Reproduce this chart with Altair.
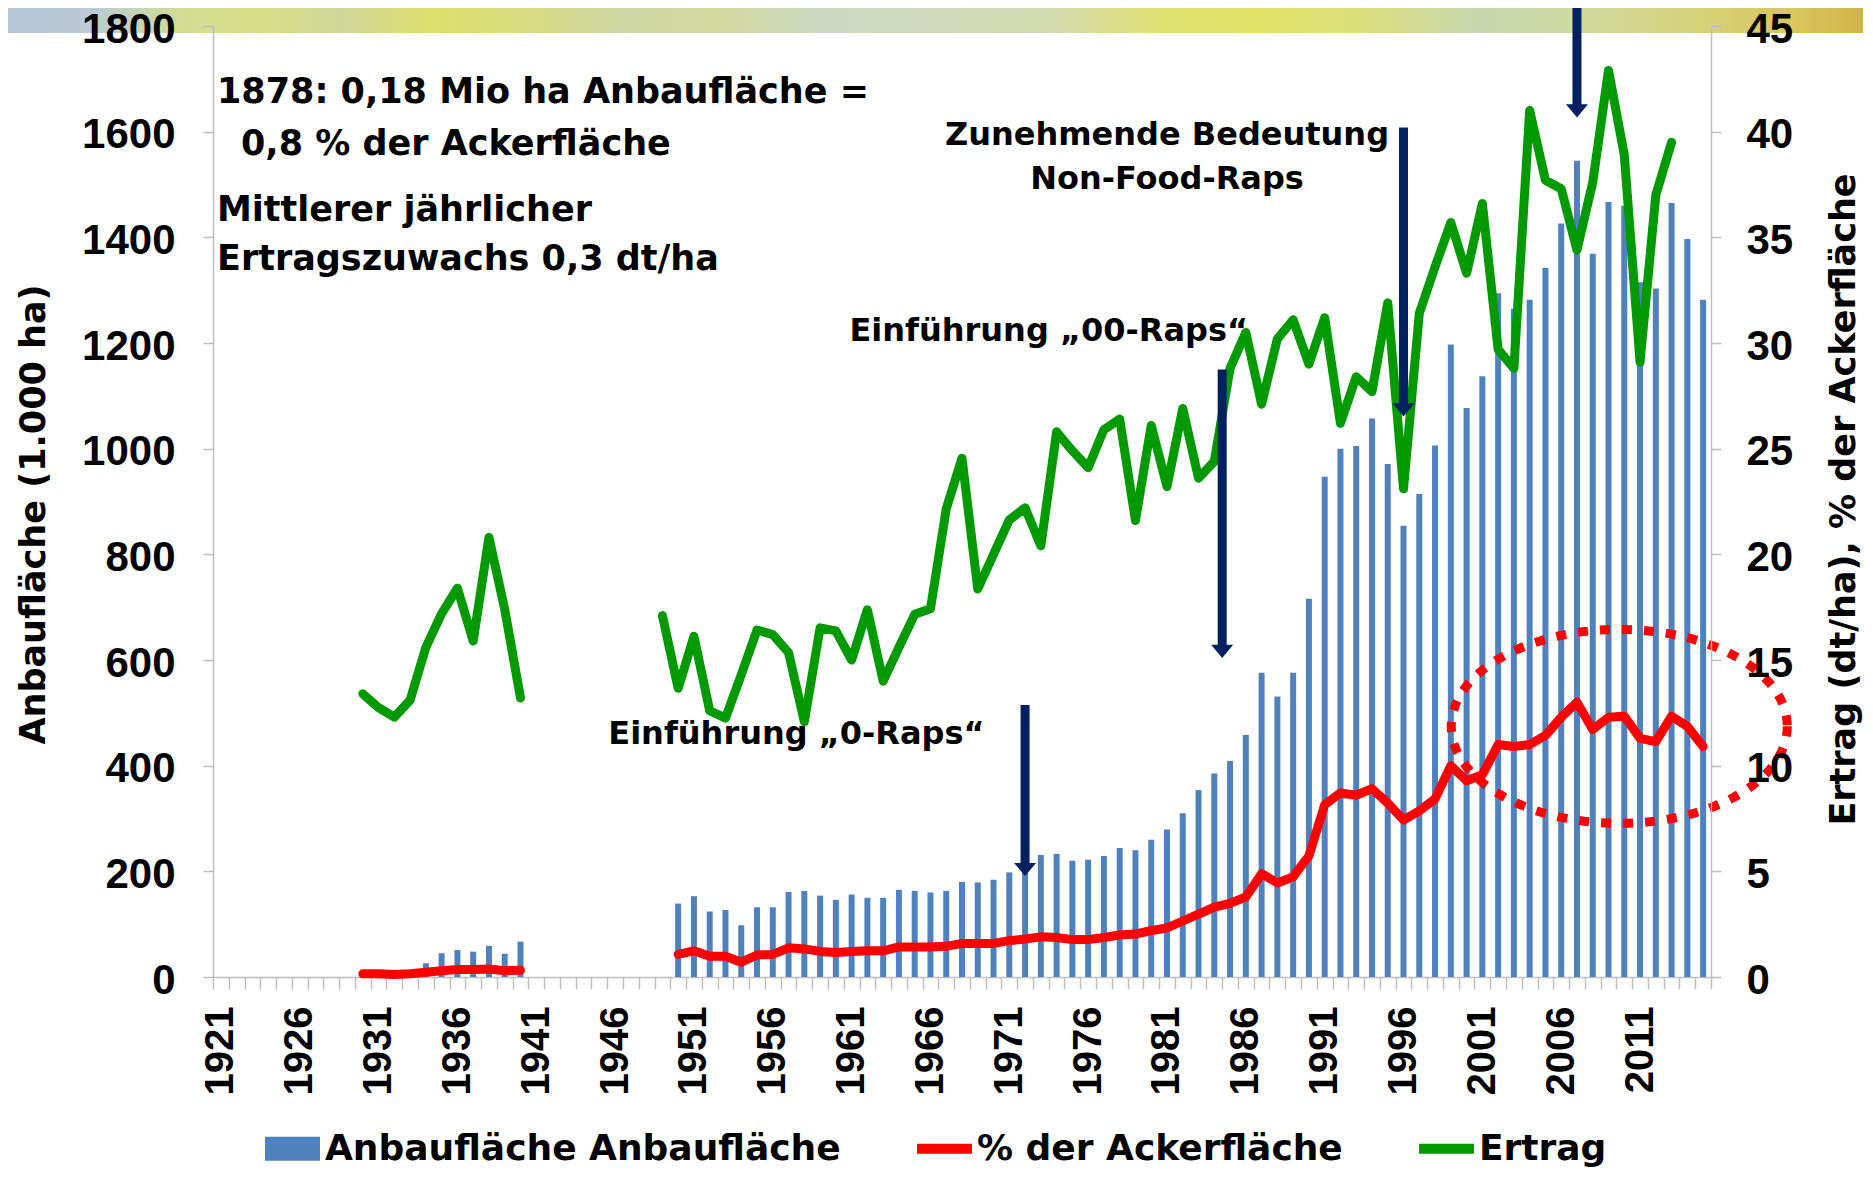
import altair as alt
import pandas as pd

# ------------------------------------------------------------------ data
years = [str(y) for y in range(1921, 2016)]

# Anbaufläche (1.000 ha)
area = ([None] * 9
        + [5, 5, 4, 5, 26, 45, 51, 48, 59, 44, 67]
        + [None] * 9
        + [139, 153, 124, 127, 98, 132, 132, 161, 163, 154,
           146, 156, 150, 150, 165, 163, 160, 163, 180, 179,
           184, 198, 200, 231, 233, 220, 222, 229, 244, 240,
           260, 279, 310, 354, 385, 409, 458, 576, 531, 576,
           716, 947, 1000, 1005, 1057, 971, 854, 914, 1006, 1197,
           1077, 1137, 1294, 1265, 1282, 1342, 1426, 1545, 1369, 1467,
           1460, 1315, 1303, 1465, 1397, 1282])

# % der Ackerfläche
pct = ([None] * 9
       + [0.15, 0.15, 0.12, 0.15, 0.22, 0.30, 0.35, 0.35, 0.38, 0.30, 0.32]
       + [None] * 9
       + [1.07, 1.24, 0.98, 0.98, 0.70, 1.04, 1.07, 1.38, 1.33, 1.21,
          1.16, 1.21, 1.24, 1.24, 1.42, 1.42, 1.42, 1.45, 1.59, 1.59,
          1.59, 1.72, 1.80, 1.90, 1.87, 1.77, 1.77, 1.87, 1.99, 2.03,
          2.20, 2.32, 2.65, 2.98, 3.31, 3.48, 3.79, 4.89, 4.45, 4.74,
          5.73, 8.15, 8.71, 8.60, 8.91, 8.23, 7.43, 7.86, 8.43, 10.0,
          9.29, 9.57, 11.0, 10.91, 11.0, 11.43, 12.29, 13.0, 11.71, 12.29,
          12.34, 11.29, 11.14, 12.34, 11.86, 10.91])

# Ertrag (dt/ha)
ertrag = ([None] * 9
          + [13.4, 12.75, 12.3, 13.1, 15.6, 17.2, 18.4, 15.9, 20.8, 17.4, 13.2]
          + [None] * 8
          + [17.1]
          + [13.66, 16.12, 12.6, 12.25, 14.3, 16.42, 16.2, 15.35, 12.08, 16.52,
             16.38, 15.0, 17.38, 14.0, 15.6, 17.16, 17.42, 22.15, 24.55, 18.36,
             20.0, 21.63, 22.2, 20.4, 25.8, 24.9, 24.1, 25.9, 26.4, 21.6,
             26.1, 23.2, 26.9, 23.6, 24.4, 28.8, 30.5, 27.1, 30.2, 31.1,
             29.0, 31.2, 26.2, 28.4, 27.7, 31.9, 23.1, 31.4, 33.6, 35.7,
             33.3, 36.6, 29.7, 28.8, 41.0, 37.7, 37.3, 34.4, 37.6, 42.9,
             38.9, 29.1, 37.0, 39.5, None, None])

legend_labels = ["Anbaufläche Anbaufläche", "% der Ackerfläche", "Ertrag"]

# arrows (values on the left axis, 1.000 ha)
arrow_years = ["1972", "1996", "2007"]
arrow_top = [515, 1608, 1870]
arrow_tip = [191, 1061, 1627]
arrow2_years = ["1985"]          # drawn at the boundary 1984/1985
arrow2_top = [1150]
arrow2_tip = [604]

# annotation texts
tl_texts = ["1878: 0,18 Mio ha Anbaufläche =", "Mittlerer jährlicher", "Ertragszuwachs 0,3 dt/ha"]
tl_years = ["1921", "1921", "1921"]
tl_vals = [1675, 1452, 1359]

ind_texts = ["0,8 % der Ackerfläche"]
ind_years = ["1921"]
ind_vals = [1577]

mid_texts = ["Zunehmende Bedeutung", "Non-Food-Raps"]
mid_years = ["1981", "1981"]
mid_vals = [1594, 1510]

end_texts = ["Einführung \u201e00-Raps\u201c", "Einführung \u201e0-Raps\u201c"]
end_years = ["1973", "1957"]
end_vals = [1223, 460]

ellipse_year = ["2010"]
ellipse_val = [11.86]

# ------------------------------------------------------------------ styles
BLUE = "#4F81BD"
RED = "#FF0000"
GREEN = "#009900"
NAVY = "#002060"
GRAY = "#BFBFBF"
TXT_FONT = "DejaVu Sans"
NUM_FONT = "Liberation Sans"

df = pd.DataFrame({"year": years, "area": area, "pct": pct, "ertrag": ertrag})
df["seg"] = ["a" if int(y) < 1945 else "b" for y in years]
df["series"] = legend_labels[0]

x_scale = alt.Scale(domain=years, paddingInner=0, paddingOuter=0)
x_axis = alt.Axis(
    title=None, labelAngle=270, labelAlign="right", labelBaseline="middle",
    labelExpr="(toNumber(datum.value) - 1921) % 5 == 0 ? datum.value : ''",
    labelFont=NUM_FONT, labelFontWeight="bold", labelFontSize=40, labelColor="black",
    labelPadding=17, labelOverlap=False, tickBand="extent", tickSize=12,
    tickColor=GRAY, tickWidth=1.5, domainColor=GRAY, domainWidth=1.5, grid=False,
)


def X(bp=None):
    if bp is None:
        return alt.X("year:N", scale=x_scale, axis=x_axis, title=None)
    return alt.X("year:N", scale=x_scale, axis=x_axis, title=None, bandPosition=bp)


ys_left = alt.Scale(domain=[0, 1800], nice=False, zero=True)
ys_right = alt.Scale(domain=[0, 45], nice=False, zero=True)
ys_ov = alt.Scale(domain=[0, 1800], nice=False, zero=True)

left_axis = alt.Axis(
    orient="left", values=list(range(0, 1801, 200)), grid=False, format="d",
    title="Anbaufläche (1.000 ha)",
    labelFont=NUM_FONT, labelFontWeight="bold", labelFontSize=42, labelColor="black",
    labelPadding=28, labelFlush=False, labelOverlap=False, labelOffset=3,
    tickSize=10, tickColor=GRAY, tickWidth=1.5, domainColor=GRAY, domainWidth=1.5,
    titleFont=TXT_FONT, titleFontWeight="bold", titleFontSize=35, titleColor="black",
    titleAngle=270, titleX=-180, titleY=488, titleAlign="center", titleBaseline="middle",
    zindex=1,
)
right_axis = alt.Axis(
    orient="right", values=list(range(0, 46, 5)), grid=False, format="d",
    title="Ertrag (dt/ha), % der Ackerfläche",
    labelFont=NUM_FONT, labelFontWeight="bold", labelFontSize=42, labelColor="black",
    labelPadding=25, labelFlush=False, labelOverlap=False, labelOffset=3,
    tickSize=10, tickColor=GRAY, tickWidth=1.5, domainColor=GRAY, domainWidth=1.5,
    titleFont=TXT_FONT, titleFontWeight="bold", titleFontSize=35, titleColor="black",
    titleAngle=270, titleX=132, titleY=473, titleAlign="center", titleBaseline="middle",
    zindex=1,
)

legend_def = alt.Legend(
    title=None, orient="none", legendX=52, legendY=1095, direction="horizontal",
    labelFont=TXT_FONT, labelFontWeight="bold", labelFontSize=36, labelColor="black",
    labelOffset=5, labelLimit=1000, columnPadding=76, padding=0,
    symbolSize=3025, symbolStrokeWidth=0,
    symbolType=alt.ExprRef(
        expr="datum.value === 'Anbaufläche Anbaufläche' ? 'M-1,-0.44H1V0.44H-1Z' : 'M-1,-0.18H1V0.18H-1Z'"
    ),
)

# ------------------------------------------------------------------ banner (slide decoration)
banner_stops = [(8, "#b6c5d9"), (100, "#bccbd2"), (180, "#d2dc95"), (260, "#d9df88"),
                (340, "#cfd69a"), (430, "#dde06c"), (520, "#d8dc80"), (620, "#cdd6a4"),
                (720, "#d4d9a0"), (820, "#cdd9c4"), (930, "#d2dbbf"), (1050, "#d3dbb0"),
                (1160, "#dfe172"), (1260, "#e3e36a"), (1360, "#dbe07e"), (1480, "#c7d6b0"),
                (1580, "#cfd9a0"), (1700, "#d6d27a"), (1800, "#d7c45c"), (1865, "#d0b44a")]
grad = alt.LinearGradient(
    gradient="linear", x1=0, x2=1, y1=0, y2=0,
    stops=[alt.GradientStop(offset=(px - 8) / 1857, color=c) for px, c in banner_stops],
)
banner = alt.Chart(pd.DataFrame({"k": [0]})).mark_rect(fill=grad).encode(
    x=alt.value(-205), x2=alt.value(1652), y=alt.value(-18), y2=alt.value(7)
)

# ------------------------------------------------------------------ layers
bars = alt.Chart(df).transform_filter("isValid(datum.area)").mark_bar(
    width=alt.RelativeBandSize(0.38)
).encode(
    x=X(),
    y=alt.Y("area:Q", scale=ys_left, axis=left_axis),
    color=alt.Color("series:N", scale=alt.Scale(domain=legend_labels, range=[BLUE, RED, GREEN]),
                    legend=legend_def),
)

red_line = alt.Chart(df).transform_filter("isValid(datum.pct)").mark_line(
    color=RED, strokeWidth=9, strokeJoin="round", strokeCap="round"
).encode(x=X(), y=alt.Y("pct:Q", scale=ys_right, axis=right_axis), detail="seg:N")

green_line = alt.Chart(df).transform_filter("isValid(datum.ertrag)").mark_line(
    color=GREEN, strokeWidth=9, strokeJoin="round", strokeCap="round"
).encode(x=X(), y=alt.Y("ertrag:Q", scale=ys_right, axis=right_axis), detail="seg:N")

k = 0.5523
ry = 0.577
ELLIPSE = (f"M1,0 C1,{k*ry:.4f} {k:.4f},{ry} 0,{ry} C-{k:.4f},{ry} -1,{k*ry:.4f} -1,0 "
           f"C-1,-{k*ry:.4f} -{k:.4f},-{ry} 0,-{ry} C{k:.4f},-{ry} 1,-{k*ry:.4f} 1,0 Z")
ell_df = pd.DataFrame({"year": ellipse_year, "v": ellipse_val})
ellipse = alt.Chart(ell_df).mark_point(
    shape=ELLIPSE, size=336 * 336, filled=False, color=RED, opacity=1,
    strokeWidth=9, strokeDash=[10, 12], xOffset=-5
).encode(x=X(), y=alt.Y("v:Q", scale=ys_right, axis=right_axis))

HEAD = "M-1,-1.2L1,-1.2L0,0Z"


def arrows(yrs, tops, tips, bp):
    d = pd.DataFrame({"year": yrs, "top": tops, "tip": tips})
    rule = alt.Chart(d).mark_rule(color=NAVY, strokeWidth=9, y2Offset=-11).encode(
        x=X(bp), y=alt.Y("top:Q", scale=ys_ov, axis=None), y2="tip:Q")
    head = alt.Chart(d).mark_point(shape=HEAD, size=484, filled=True, color=NAVY,
                                   opacity=1, strokeWidth=0).encode(
        x=X(bp), y=alt.Y("tip:Q", scale=ys_ov, axis=None))
    return [rule, head]


def texts(txts, yrs, vals, bp, size, align, dx):
    d = pd.DataFrame({"year": yrs, "v": vals, "t": txts})
    return alt.Chart(d).mark_text(
        font=TXT_FONT, fontWeight="bold", fontSize=size, align=align,
        baseline="middle", color="black", dx=dx
    ).encode(x=X(bp), y=alt.Y("v:Q", scale=ys_ov, axis=None), text="t:N")


left_group = alt.layer(banner, bars)
right_group = alt.layer(red_line, green_line, ellipse)
overlay = alt.layer(
    *arrows(arrow_years, arrow_top, arrow_tip, None),
    *arrows(arrow2_years, arrow2_top, arrow2_tip, 0),
    texts(tl_texts, tl_years, tl_vals, 0, 35, "left", 4),
    texts(ind_texts, ind_years, ind_vals, 0, 35, "left", 28),
    texts(mid_texts, mid_years, mid_vals, None, 32, "center", 0),
    texts(end_texts, end_years, end_vals, 1, 32, "center", 0),
)

chart = alt.layer(left_group, right_group, overlay).resolve_scale(
    y="independent"
).properties(
    width=1498, height=951,
    autosize=alt.AutoSizeParams(type="none"),
    padding={"left": 205, "top": 18, "right": 152, "bottom": 190},
).configure_view(strokeWidth=0).configure(background="white")

chart.save("out.html", embed_options={"renderer": "svg", "actions": False})
